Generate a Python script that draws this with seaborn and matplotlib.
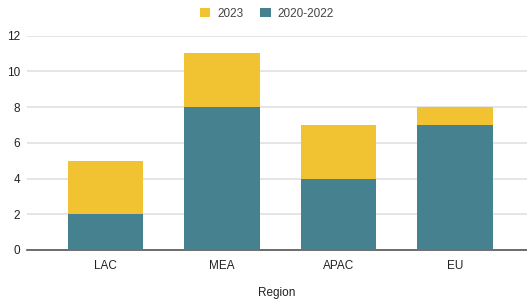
import pandas as pd
import matplotlib.pyplot as plt
import seaborn as sns

# data
regions = ["LAC", "MEA", "APAC", "EU"]
v_2020_2022 = [2, 8, 4, 7]
v_2023 = [3, 3, 3, 1]

yellow = "#f1c232"
teal = "#45818e"

sns.set_style("white")
plt.rcParams["font.family"] = ["Liberation Sans", "DejaVu Sans"]

df = pd.DataFrame({"Region": regions, "2020-2022": v_2020_2022, "2023": v_2023})
df["total"] = df["2020-2022"] + df["2023"]

fig = plt.figure(figsize=(5.27, 2.99), dpi=100)
ax = fig.add_axes([0.0512, 0.164, 0.9488, 0.717])

# stacked: draw totals in yellow, then the lower part in teal on top
sns.barplot(data=df, x="Region", y="total", color=yellow, width=0.645,
            saturation=1, ax=ax, zorder=3, label="2023", linewidth=0)
sns.barplot(data=df, x="Region", y="2020-2022", color=teal, width=0.645,
            saturation=1, ax=ax, zorder=4, label="2020-2022", linewidth=0)

ax.set_ylim(0, 12)
ax.set_yticks(range(0, 13, 2))
ax.set_xlim(-0.674, 3.618)
ax.grid(axis="y", color="#e0e0e0", linewidth=1.2, zorder=0)
ax.set_axisbelow(True)
for s in ["top", "right", "left"]:
    ax.spines[s].set_visible(False)
ax.spines["bottom"].set_color("#555555")
ax.spines["bottom"].set_linewidth(1.2)
ax.tick_params(axis="both", length=0, labelsize=8.5, colors="#222222")
ax.tick_params(axis="y", pad=5)
ax.tick_params(axis="x", pad=7)
ax.set_ylabel("")
ax.set_xlabel("Region", fontsize=8.5, color="#222222", labelpad=11)

ax.legend(loc="lower center", bbox_to_anchor=(0.48, 1.025), ncol=2, frameon=False,
          fontsize=8.5, labelcolor="#444444", handlelength=0.9, handleheight=0.9,
          columnspacing=1.4, handletextpad=0.6)

fig.savefig("out.png", dpi=100)
